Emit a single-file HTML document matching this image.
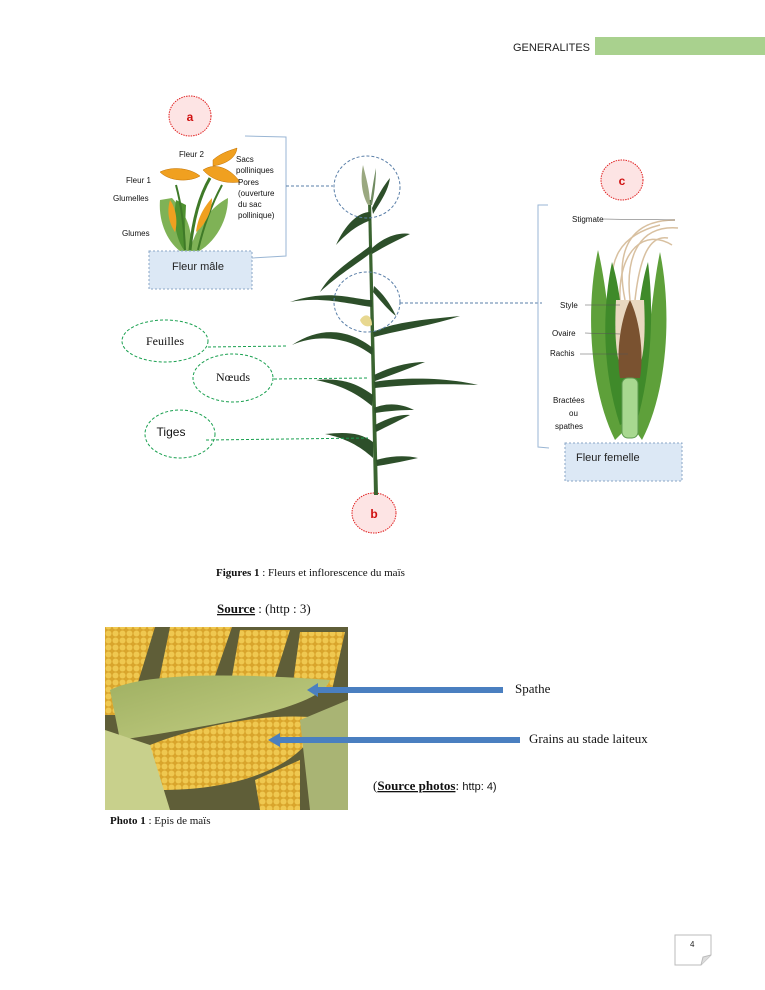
<!DOCTYPE html>
<html><head><meta charset="utf-8"><style>
html,body{margin:0;padding:0;background:#fff}
body{width:765px;height:990px;position:relative;overflow:hidden;font-family:"Liberation Serif",serif}
svg{position:absolute;left:0;top:0}
</style></head><body>
<svg width="765" height="990" viewBox="0 0 765 990" xmlns="http://www.w3.org/2000/svg">
<defs>
<linearGradient id="husk" x1="0" y1="0" x2="1" y2="1"><stop offset="0" stop-color="#9fb062"/><stop offset="1" stop-color="#c5cf84"/></linearGradient>
<pattern id="kern" width="7" height="7" patternUnits="userSpaceOnUse"><rect width="7" height="7" fill="#d9a52c"/><circle cx="3.5" cy="3.5" r="3" fill="#efc850"/></pattern>
</defs>
<text x="513" y="51" font-family="Liberation Sans,sans-serif" font-size="11" fill="#222">GENERALITES</text>
<rect x="595" y="37" width="170" height="18" fill="#a9d18e"/>

<ellipse cx="190" cy="116" rx="21" ry="20" fill="#fde4e4" stroke="#e02020" stroke-dasharray="1.5,1"/>
<text x="190" y="121" font-family="Liberation Sans,sans-serif" font-weight="bold" font-size="12" fill="#d01010" text-anchor="middle">a</text>
<ellipse cx="622" cy="180" rx="21" ry="20" fill="#fde4e4" stroke="#e02020" stroke-dasharray="1.5,1"/>
<text x="622" y="185" font-family="Liberation Sans,sans-serif" font-weight="bold" font-size="12" fill="#d01010" text-anchor="middle">c</text>
<ellipse cx="374" cy="513" rx="22" ry="20" fill="#fde4e4" stroke="#e02020" stroke-dasharray="1.5,1"/>
<text x="374" y="518" font-family="Liberation Sans,sans-serif" font-weight="bold" font-size="12" fill="#d01010" text-anchor="middle">b</text>

<!-- male flower -->
<g>
<path d="M186,262 L187,240 L191,240 L191,262Z" fill="#4c8a2a"/>
<path d="M160,200 C158,225 170,248 188,256 C195,238 190,218 172,198Z" fill="#7fb256"/>
<path d="M188,256 C210,250 228,225 228,198 C212,206 196,225 188,256Z" fill="#7fb256"/>
<path d="M176,200 C172,225 178,242 184,250 L186,205Z" fill="#4f9130"/>
<path d="M190,250 C193,220 200,195 210,178" stroke="#3f7a28" stroke-width="3" fill="none"/>
<path d="M185,250 C184,222 180,200 176,185" stroke="#3f7a28" stroke-width="2" fill="none"/>
<path d="M198,250 C205,220 215,198 222,185" stroke="#3f7a28" stroke-width="2" fill="none"/>
<path d="M160,172 C172,166 190,168 200,176 C190,182 170,182 160,172Z" fill="#f0a020" stroke="#c07000" stroke-width=".5"/>
<path d="M203,170 C215,162 230,168 240,182 C225,184 212,180 203,170Z" fill="#f0a020" stroke="#c07000" stroke-width=".5"/>
<path d="M213,160 C222,152 232,150 237,148 C236,158 226,164 213,166Z" fill="#f0a020" stroke="#c07000" stroke-width=".5"/>
<path d="M170,200 C176,208 178,222 175,232 C168,222 167,210 170,200Z" fill="#f0a020"/>
<path d="M196,232 C198,215 206,205 212,198 C212,212 205,225 196,232Z" fill="#f0a020"/>
</g>
<g font-family="Liberation Sans,sans-serif" font-size="8" fill="#111">
<text x="179" y="157">Fleur 2</text>
<text x="236" y="162">Sacs</text>
<text x="236" y="173">polliniques</text>
<text x="238" y="185">Pores</text>
<text x="238" y="196">(ouverture</text>
<text x="238" y="207">du sac</text>
<text x="238" y="218">pollinique)</text>
<text x="126" y="183">Fleur 1</text>
<text x="113" y="201">Glumelles</text>
<text x="122" y="236">Glumes</text>
</g>
<path d="M245,136 L286,137 L286,256 L252,258" stroke="#9ab6d4" fill="none" stroke-width="1"/>
<rect x="149" y="251" width="103" height="38" fill="#dce8f5" stroke="#8aa6c6" stroke-dasharray="2,2"/>
<text x="172" y="270" font-family="Liberation Sans,sans-serif" font-size="11" fill="#222">Fleur mâle</text>
<path d="M286,186 L333,186" stroke="#5a7fa8" stroke-dasharray="3,2"/>

<!-- plant -->
<g fill="#2d4f2a">
<path d="M374,495 L378,495 L371,200 L368,200Z" fill="#3a6430"/>
<path d="M368,205 C362,195 360,180 363,165 C366,178 370,190 370,205Z" fill="#9aa880"/>
<path d="M370,205 C372,190 374,178 376,168 C376,182 374,195 372,205Z" fill="#6f8a60"/>
<path d="M370,212 C358,212 345,225 336,245 C348,232 358,225 371,220Z"/>
<path d="M372,208 C378,195 384,185 390,178 C388,192 380,202 373,214Z"/>
<path d="M371,245 C360,255 332,270 320,292 C338,275 360,262 372,252Z"/>
<path d="M372,248 C385,236 400,232 410,234 C398,240 385,246 372,254Z"/>
<path d="M373,292 C380,300 388,310 396,316 C390,303 383,294 374,286Z"/>
<path d="M372,300 C355,300 330,288 290,302 C320,296 350,304 372,307Z"/>
<path d="M373,332 C395,322 420,320 460,316 C430,326 400,330 374,337Z"/>
<path d="M373,348 C350,330 322,325 292,345 C320,333 350,338 372,355Z"/>
<path d="M374,375 C392,366 410,362 425,362 C410,368 392,375 375,381Z"/>
<path d="M374,382 C395,378 440,376 478,385 C440,383 400,385 375,388Z"/>
<path d="M373,395 C355,382 340,378 316,380 C340,385 355,392 372,406Z"/>
<path d="M374,408 C388,402 402,404 414,410 C400,410 388,411 375,413Z"/>
<path d="M375,425 C388,418 400,414 410,415 C398,421 388,426 376,432Z"/>
<path d="M373,442 C360,432 345,432 325,434 C345,438 360,446 373,458Z"/>
<path d="M376,460 C390,456 405,455 418,458 C405,461 390,464 377,466Z"/>
</g>
<path d="M360,320 C365,312 372,315 372,325 C368,328 362,326 360,320Z" fill="#e8d890"/>
<ellipse cx="367" cy="187" rx="33" ry="31" fill="none" stroke="#5a7fa8" stroke-dasharray="3,2"/>
<ellipse cx="367" cy="302" rx="33" ry="30" fill="none" stroke="#5a7fa8" stroke-dasharray="3,2"/>
<path d="M400,303 L542,303" stroke="#5a7fa8" stroke-dasharray="3,2"/>

<g fill="none" stroke="#1aa050" stroke-dasharray="3,2">
<ellipse cx="165" cy="341" rx="43" ry="21"/>
<ellipse cx="233" cy="378" rx="40" ry="24"/>
<ellipse cx="180" cy="434" rx="35" ry="24"/>
<path d="M208,347 L287,346"/>
<path d="M274,379 L368,378"/>
<path d="M206,440 L368,438"/>
</g>
<text x="165" y="345" font-size="12" text-anchor="middle" fill="#111">Feuilles</text>
<text x="233" y="381" font-size="12" text-anchor="middle" fill="#111">Nœuds</text>
<text x="171" y="436" font-family="Liberation Sans,sans-serif" font-size="12" text-anchor="middle" fill="#111">Tiges</text>

<!-- female flower -->
<path d="M548,205 L538,205 L538,447 L549,448" stroke="#9ab6d4" fill="none"/>
<g>
<g stroke="#d8c0a0" stroke-width="1.5" fill="none">
<path d="M625,300 C615,250 630,220 675,220"/>
<path d="M630,300 C625,255 640,225 678,228"/>
<path d="M620,300 C618,250 645,228 672,245"/>
<path d="M635,300 C640,255 650,235 668,238"/>
<path d="M615,305 C605,260 620,235 660,225"/>
</g>
<path d="M615,440 C590,390 585,310 598,250 C610,300 612,370 625,430Z" fill="#5ea03a"/>
<path d="M642,440 C668,390 672,310 660,252 C650,300 648,370 635,430Z" fill="#5ea03a"/>
<path d="M620,425 C602,370 602,310 612,262 C624,300 625,360 628,420Z" fill="#3f8a2a"/>
<path d="M636,425 C652,370 654,310 648,262 C636,300 635,360 632,420Z" fill="#3f8a2a"/>
<path d="M616,300 C614,340 616,372 630,380 C644,372 646,340 644,300Z" fill="#e8d8c0"/>
<path d="M630,300 C620,320 616,355 620,378 L640,378 C644,355 640,320 630,300Z" fill="#7a5230"/>
<rect x="622" y="378" width="16" height="60" rx="6" fill="#a8d890" stroke="#5e9a50"/>
</g>
<g font-family="Liberation Sans,sans-serif" font-size="8" fill="#111">
<text x="572" y="222">Stigmate</text>
<text x="560" y="308">Style</text>
<text x="552" y="336">Ovaire</text>
<text x="550" y="356">Rachis</text>
<text x="553" y="403">Bractées</text>
<text x="569" y="416">ou</text>
<text x="555" y="429">spathes</text>
</g>
<g stroke="#555" stroke-width=".5"><line x1="603" y1="219" x2="675" y2="220"/><line x1="585" y1="305" x2="620" y2="305"/><line x1="585" y1="333" x2="620" y2="334"/><line x1="580" y1="354" x2="628" y2="354"/></g>
<rect x="565" y="443" width="117" height="38" fill="#dce8f5" stroke="#8aa6c6" stroke-dasharray="2,2"/>
<text x="576" y="461" font-family="Liberation Sans,sans-serif" font-size="11" fill="#222">Fleur femelle</text>

<text x="216" y="576" font-size="11" fill="#111"><tspan font-weight="bold">Figures 1</tspan> : Fleurs et inflorescence du maïs</text>
<text x="217" y="613" font-size="13" fill="#111"><tspan font-weight="bold" text-decoration="underline">Source</tspan> : (http : 3)</text>

<!-- photo -->
<g>
<rect x="105" y="627" width="243" height="183" fill="#5f5e38"/>
<path d="M105,627 L155,627 L128,715 L105,715Z" fill="url(#kern)"/>
<path d="M170,627 L232,627 L205,705 L155,700Z" fill="url(#kern)"/>
<path d="M240,630 L290,630 L268,700 L228,700Z" fill="url(#kern)"/>
<path d="M300,632 L345,632 L332,690 L292,690Z" fill="url(#kern)"/>
<path d="M110,690 C150,670 260,675 330,680 C320,705 250,720 120,740Z" fill="url(#husk)"/>
<path d="M150,745 C200,725 270,712 320,718 C310,760 250,790 160,790Z" fill="url(#kern)"/>
<path d="M105,730 L150,745 L170,810 L105,810Z" fill="#c8d08c"/>
<path d="M255,780 L300,760 L300,810 L260,810Z" fill="url(#kern)"/>
<path d="M300,720 L348,700 L348,810 L310,810Z" fill="#a9b474"/>
</g>
<polygon points="503,687 318,687 318,683 307,690 318,697 318,693 503,693" fill="#4a7fc0"/>
<polygon points="520,737 280,737 280,733 268,740 280,747 280,743 520,743" fill="#4a7fc0"/>
<text x="515" y="693" font-size="13" fill="#111">Spathe</text>
<text x="529" y="743" font-size="13" fill="#111">Grains au stade laiteux</text>
<text x="373" y="790" font-size="13" fill="#111">(<tspan font-weight="bold" text-decoration="underline">Source photos</tspan>: <tspan font-family="Liberation Sans,sans-serif" font-size="11">http: 4)</tspan></text>
<text x="110" y="824" font-size="11" fill="#111"><tspan font-weight="bold">Photo 1</tspan> : Epis de maïs</text>

<path d="M675,935 L711,935 L711,955 L701,965 L675,965Z" fill="#fff" stroke="#bbb"/>
<path d="M701,965 L703,957 L711,955" fill="#ddd" stroke="#bbb"/>
<text x="690" y="947" font-family="Liberation Sans,sans-serif" font-size="8" fill="#222">4</text>
</svg>
</body></html>
